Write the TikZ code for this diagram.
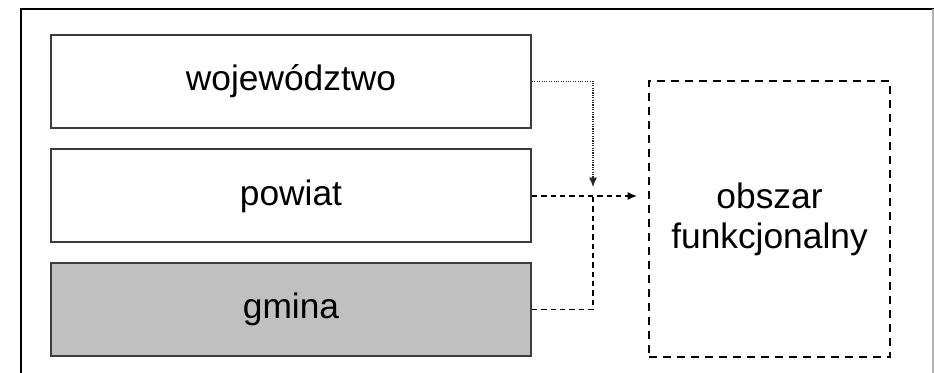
\documentclass[tikz,border=0pt]{standalone}
\usepackage{fontspec}
\setmainfont{Liberation Sans}
\usetikzlibrary{arrows.meta}
\definecolor{boxgray}{RGB}{192,192,192}
\definecolor{linegray}{RGB}{60,60,60}

\begin{document}
\begin{tikzpicture}[x=0.75pt,y=0.75pt,yscale=-1,xscale=1,
  level/.style={draw=linegray,line width=1.5pt,minimum width=360pt,minimum height=69.75pt,inner sep=0pt,font=\fontsize{26.5}{30}\selectfont},
  area/.style={draw=black,line width=1.5pt,dash pattern=on 6pt off 4.5pt,minimum width=180.75pt,minimum height=207pt,align=center,inner sep=0pt,font=\fontsize{26.5}{30}\selectfont},
  link/.style={line width=0.9pt,dash pattern=on 4pt off 3pt},
  tip/.style={-{Latex[length=7pt,width=6pt]}}]
\useasboundingbox (0,0) rectangle (934,373);
% frame
\draw[line width=1.2pt] (21,373) -- (21,9) -- (934,9);
\draw[line width=1pt,black!30] (933,9) -- (933,373);
% levels
\node[level] (woj) at (291,81.5) {województwo};
\node[level] (pow) at (291,196) {powiat};
\node[level,fill=boxgray] (gm) at (291,309.5) {gmina};
\node[area] (obs) at (769.5,219) {obszar\\funkcjonalny};
% connectors
\coordinate (mid) at (593,196);
\coordinate (midtop) at (593,187);
\coordinate (end) at (637,196);
\draw[tip,densely dotted,line width=0.8pt,black!85] (woj.east) -| (midtop);
\draw[tip,link] (pow.east) -- (end);
\draw[link] (gm.east) -| (mid);
\end{tikzpicture}
\end{document}
